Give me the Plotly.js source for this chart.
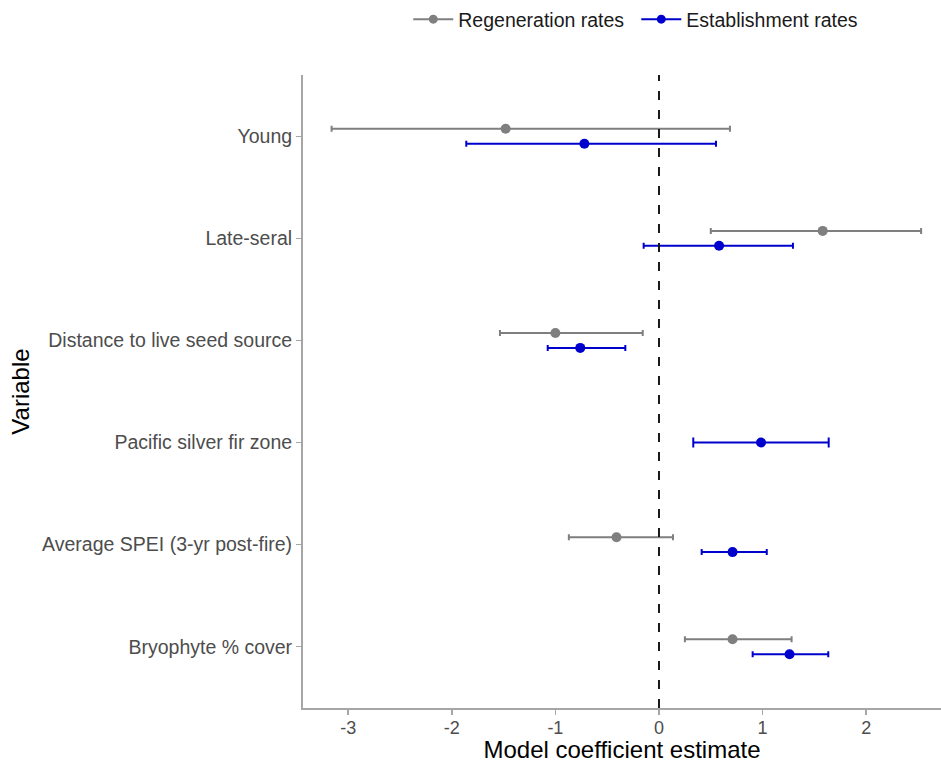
<!DOCTYPE html>
<html>
<head>
<meta charset="utf-8">
<script src="https://cdn.plot.ly/plotly-3.0.1.min.js"></script>
<style>html,body{margin:0;padding:0;background:#fff;overflow:hidden}</style>
</head>
<body>
<div id="chart" style="width:941px;height:763px"></div>
<script>
// ---- data ----
const categories = ["Young", "Late-seral", "Distance to live seed source", "Pacific silver fir zone", "Average SPEI (3-yr post-fire)", "Bryophyte % cover"];
const regenEst = [-1.48, 1.58, -1.00, null, -0.41, 0.71];
const regenLo  = [-3.16, 0.50, -1.535, null, -0.87, 0.25];
const regenHi  = [0.685, 2.53, -0.157, null, 0.135, 1.28];
const estabEst = [-0.72, 0.58, -0.76, 0.985, 0.71, 1.26];
const estabLo  = [-1.86, -0.148, -1.074, 0.331, 0.412, 0.904];
const estabHi  = [0.55, 1.293, -0.325, 1.638, 1.04, 1.634];
const xTicks = [-3, -2, -1, 0, 1, 2];

const GRAY = "#7f7f7f", BLUE = "#0000cd";
const DODGE = 0.073;
const FONT = "Arial, 'Liberation Sans', sans-serif";

function buildTrace(est, lo, hi, color, offset, onlyPaired, capW) {
  const x = [], y = [], plus = [], minus = [];
  est.forEach((v, i) => {
    if (v === null) return;
    const paired = regenEst[i] !== null && estabEst[i] !== null;
    if (onlyPaired !== paired) return;
    x.push(v);
    y.push(i + (paired ? offset : 0));
    plus.push(hi[i] - v);
    minus.push(v - lo[i]);
  });
  return {
    type: "scatter", mode: "markers", x, y, showlegend: false, hoverinfo: "x",
    marker: {color, size: 10},
    error_x: {type: "data", symmetric: false, array: plus, arrayminus: minus,
              color, thickness: 2, width: capW}
  };
}

const traces = [
  buildTrace(regenEst, regenLo, regenHi, GRAY, -DODGE, true, 3),
  buildTrace(estabEst, estabLo, estabHi, BLUE, DODGE, true, 3),
  buildTrace(estabEst, estabLo, estabHi, BLUE, 0, false, 5),
  {type: "scatter", mode: "lines+markers", x: [null], y: [null], name: "Regeneration rates",
   line: {color: GRAY, width: 2}, marker: {color: GRAY, size: 9}},
  {type: "scatter", mode: "lines+markers", x: [null], y: [null], name: "Establishment rates",
   line: {color: BLUE, width: 2}, marker: {color: BLUE, size: 9}}
];

const layout = {
  width: 941, height: 763,
  margin: {l: 303, r: 0, t: 74, b: 55},
  paper_bgcolor: "#fff", plot_bgcolor: "#fff",
  font: {family: FONT, size: 19, color: "#4d4d4d"},
  showlegend: true,
  legend: {orientation: "h", x: 0.165, xanchor: "left", y: 1.088, yanchor: "middle",
           font: {family: FONT, size: 19.5, color: "#1a1a1a"}, itemwidth: 40, entrywidth: 173,
           bgcolor: "rgba(0,0,0,0)"},
  xaxis: {
    range: [-3.436, 2.722], tickvals: xTicks, ticktext: xTicks.map(String),
    showgrid: false, zeroline: false, showline: true, linecolor: "#a6a6a6", linewidth: 2,
    ticks: "outside", ticklen: 5, tickwidth: 1.5, tickcolor: "#a6a6a6",
    ticklabelstandoff: -3,
    tickfont: {family: FONT, size: 18, color: "#4d4d4d"},
    title: {text: "Model coefficient estimate", font: {family: FONT, size: 24, color: "#000"}, standoff: 7}
  },
  yaxis: {
    range: [5.6, -0.6], tickvals: categories.map((_, i) => i), ticktext: categories,
    showgrid: false, zeroline: false, showline: true, linecolor: "#a6a6a6", linewidth: 2,
    ticks: "outside", ticklen: 5, tickwidth: 1.5, tickcolor: "#a6a6a6",
    tickfont: {family: FONT, size: 19.5, color: "#4d4d4d"},
    title: {text: "Variable", font: {family: FONT, size: 24, color: "#000"}, standoff: 6}
  },
  shapes: [{type: "line", xref: "x", yref: "paper", x0: 0, x1: 0, y0: 0, y1: 1,
            line: {color: "#1a1a1a", width: 2, dash: "9px,10px"}, layer: "above"}]
};

Plotly.newPlot("chart", traces, layout, {displayModeBar: false, staticPlot: true});
</script>
</body>
</html>
